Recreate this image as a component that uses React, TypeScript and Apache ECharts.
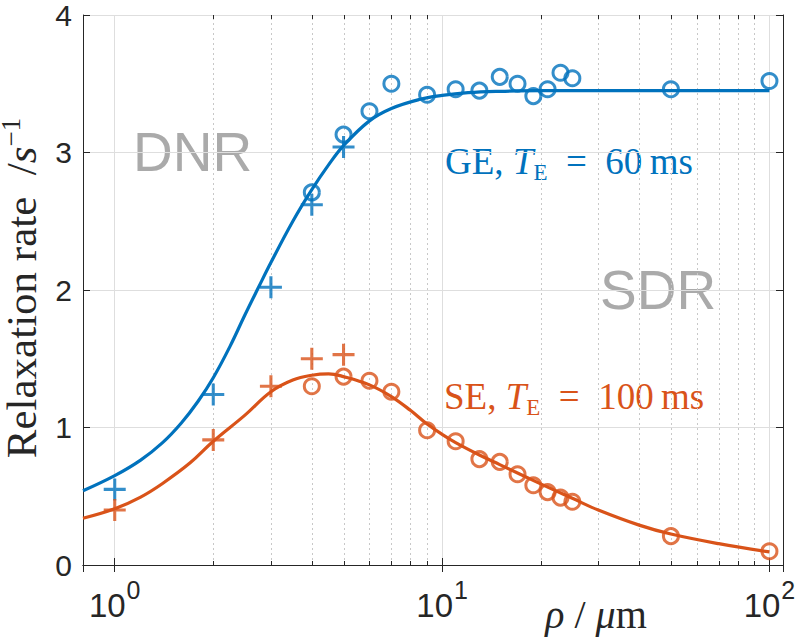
import React, { useEffect, useRef } from "react";
import * as echarts from "echarts";

// ---- data ----
const geCurveX = [0.8, 1, 1.2, 1.4, 1.6, 1.8, 2, 2.25, 2.5, 2.75, 3, 3.5, 4, 4.5, 5, 6, 7, 8.5, 10, 12, 15, 20, 30, 50, 100];
const geCurveY = [0.54, 0.65, 0.763, 0.89, 1.035, 1.193, 1.362, 1.59, 1.82, 2.02, 2.2, 2.5, 2.73, 2.91, 3.05, 3.23, 3.32, 3.385, 3.415, 3.435, 3.445, 3.45, 3.45, 3.45, 3.45];
const seCurveX = [0.8, 1, 1.2, 1.4, 1.7, 2, 2.5, 3, 3.5, 4, 4.5, 5, 6, 7, 8, 9, 10, 11, 13, 15, 20, 25, 30, 40, 50, 70, 100];
const seCurveY = [0.34, 0.409, 0.494, 0.593, 0.743, 0.9, 1.09, 1.26, 1.345, 1.38, 1.39, 1.37, 1.31, 1.225, 1.125, 1.025, 0.95, 0.89, 0.8, 0.73, 0.59, 0.485, 0.4, 0.29, 0.225, 0.155, 0.095];

const circX = [4, 5, 6, 7, 9, 11, 13, 15, 17, 19, 21, 23, 25, 50, 100];
const geCircY = [2.71, 3.13, 3.3, 3.5, 3.42, 3.46, 3.45, 3.55, 3.5, 3.41, 3.46, 3.58, 3.54, 3.46, 3.52];
const seCircY = [1.3, 1.37, 1.34, 1.26, 0.98, 0.9, 0.77, 0.75, 0.66, 0.58, 0.53, 0.49, 0.46, 0.21, 0.1];

const crossX = [1, 2, 3, 4, 5];
const geCrossY = [0.55, 1.24, 2.02, 2.62, 3.04];
const seCrossY = [0.4, 0.91, 1.3, 1.5, 1.53];

const minorX = [2, 3, 4, 5, 6, 7, 8, 9, 20, 30, 40, 50, 60, 70, 80, 90];
const yTicks = [0, 1, 2, 3, 4];

const BLUE = "#0072BD";
const ORANGE = "#D95319";
const AX = "#262626";
const SERIF = "'Liberation Serif', 'Times New Roman', serif";
const SANS = "'Liberation Sans', Arial, sans-serif";

const PLUS = "path://M8.6,0 H11.4 V8.6 H20 V11.4 H11.4 V20 H8.6 V11.4 H0 V8.6 H8.6 Z";

const zip = (xs: number[], ys: number[]) => xs.map((x, i) => [x, ys[i]]);

const annot = (c: string) => ({
  n: { fontFamily: SERIF, fontSize: 37, fill: c, lineHeight: 42 },
  i: { fontFamily: SERIF, fontStyle: "italic", fontSize: 37, fill: c, lineHeight: 42 },
  s: { fontFamily: SERIF, fontSize: 23, fill: c, lineHeight: 42, padding: [22, 0, 0, 0] },
});

export default function App() {
  const ref = useRef<HTMLDivElement>(null);
  useEffect(() => {
    document.body.style.margin = "0";
    const chart = echarts.init(ref.current!, null, { renderer: "svg" });
    const xLabelFmt = (v: number) => {
      const e = Math.round(Math.log10(v));
      if (Math.abs(Math.pow(10, e) - v) > 1e-9) return "";
      return `{b|10}{e|${e}}`;
    };
    const circleStyle = (c: string) => ({
      type: "scatter",
      symbol: "circle",
      symbolSize: 15,
      itemStyle: { color: "rgba(0,0,0,0)", borderColor: c, borderWidth: 3 },
      z: 5,
    });
    const plusStyle = (c: string) => ({
      type: "scatter",
      symbol: PLUS,
      symbolSize: 22,
      itemStyle: { color: c },
      z: 5,
    });
    const option: any = {
      animation: false,
      grid: { left: 83, right: 17, top: 13, bottom: 74 },
      xAxis: [
        {
          type: "log",
          logBase: 10,
          min: 0.8,
          max: 110,
          position: "bottom",
          axisLine: { show: true, lineStyle: { color: AX, width: 1 } },
          axisTick: { show: true, inside: true, length: 7, lineStyle: { color: AX } },
          axisLabel: {
            formatter: xLabelFmt,
            showMinLabel: false,
            showMaxLabel: false,
            margin: 22,
            rich: {
              b: { fontFamily: SANS, fontSize: 33, color: AX, lineHeight: 36 },
              e: { fontFamily: SANS, fontSize: 25, color: AX, lineHeight: 36, padding: [0, 0, 30, 1] },
            },
          },
          splitLine: { show: true, lineStyle: { color: "#dedede", width: 1 } },
        },
        {
          type: "log",
          logBase: 10,
          min: 0.8,
          max: 110,
          position: "top",
          axisLine: { show: true, lineStyle: { color: AX, width: 1 } },
          axisTick: { show: true, inside: true, length: 7, lineStyle: { color: AX } },
          axisLabel: { show: false },
          splitLine: { show: false },
        },
      ],
      yAxis: [
        {
          type: "value",
          min: yTicks[0],
          max: yTicks[yTicks.length - 1],
          interval: 1,
          position: "left",
          axisLine: { show: true, lineStyle: { color: AX, width: 1 } },
          axisTick: { show: true, inside: true, length: 7, lineStyle: { color: AX } },
          axisLabel: { fontFamily: SANS, fontSize: 30, color: AX, margin: 11 },
          splitLine: { show: true, lineStyle: { color: "#dedede", width: 1 } },
        },
        {
          type: "value",
          min: yTicks[0],
          max: yTicks[yTicks.length - 1],
          interval: 1,
          position: "right",
          axisLine: { show: true, lineStyle: { color: AX, width: 1 } },
          axisTick: { show: true, inside: true, length: 7, lineStyle: { color: AX } },
          axisLabel: { show: false },
          splitLine: { show: false },
        },
      ],
      series: [
        {
          type: "custom",
          silent: true,
          z: 1,
          data: minorX.map((v) => [v, 0]),
          encode: { x: 0, y: 1 },
          renderItem: (params: any, api: any) => {
            const x = api.value(0);
            const p0 = api.coord([x, yTicks[0]]);
            const p1 = api.coord([x, yTicks[yTicks.length - 1]]);
            const px = Math.round(p0[0]) + 0.5;
            return {
              type: "group",
              children: [
                { type: "line", shape: { x1: px, y1: p0[1], x2: px, y2: p1[1] }, style: { stroke: "#c8c8c8", lineWidth: 1, lineDash: [2, 3] } },
                { type: "line", shape: { x1: px, y1: p0[1], x2: px, y2: p0[1] - 4 }, style: { stroke: AX, lineWidth: 1 } },
                { type: "line", shape: { x1: px, y1: p1[1], x2: px, y2: p1[1] + 4 }, style: { stroke: AX, lineWidth: 1 } },
              ],
            };
          },
        },
        {
          type: "line",
          data: zip(geCurveX, geCurveY),
          smooth: 0.4,
          showSymbol: false,
          lineStyle: { color: BLUE, width: 3.2 },
          z: 4,
        },
        {
          type: "line",
          data: zip(seCurveX, seCurveY),
          smooth: 0.4,
          showSymbol: false,
          lineStyle: { color: ORANGE, width: 3.2 },
          z: 4,
        },
        { ...circleStyle(BLUE), data: zip(circX, geCircY) },
        { ...circleStyle(ORANGE), data: zip(circX, seCircY) },
        { ...plusStyle(BLUE), data: zip(crossX, geCrossY) },
        { ...plusStyle(ORANGE), data: zip(crossX, seCrossY) },
      ],
      graphic: [
        {
          type: "text",
          x: 133,
          y: 152,
          style: { text: "DNR", font: `55px ${SANS}`, fill: "#aaaaaa", textAlign: "left", textVerticalAlign: "middle" },
        },
        {
          type: "text",
          x: 600,
          y: 290,
          style: { text: "SDR", font: `55px ${SANS}`, fill: "#aaaaaa", textAlign: "left", textVerticalAlign: "middle" },
        },
        {
          type: "text",
          x: 445,
          y: 161,
          style: {
            text: "{n|GE, }{i|T}{s|E}{n|\u2002=\u200260\u2009ms}",
            fill: BLUE,
            textAlign: "left",
            textVerticalAlign: "middle",
            rich: annot(BLUE),
          },
        },
        {
          type: "text",
          x: 444,
          y: 396,
          style: {
            text: "{n|SE, }{i|T}{s|E}{n|\u2002=\u2002100\u2009ms}",
            fill: ORANGE,
            textAlign: "left",
            textVerticalAlign: "middle",
            rich: annot(ORANGE),
          },
        },
        {
          type: "text",
          x: 21,
          y: 288,
          rotation: Math.PI / 2,
          style: {
            text: "{n|Relaxation rate\u2002/}{i|s}{p|−1}",
            fill: AX,
            textAlign: "center",
            textVerticalAlign: "middle",
            rich: {
              n: { fontFamily: SERIF, fontSize: 43, fill: AX, lineHeight: 46 },
              i: { fontFamily: SERIF, fontStyle: "italic", fontSize: 43, fill: AX, lineHeight: 46 },
              p: { fontFamily: SERIF, fontSize: 27, fill: AX, lineHeight: 46, padding: [0, 0, 20, 0] },
            },
          },
        },
        {
          type: "text",
          x: 596,
          y: 614,
          style: {
            text: "{i|ρ}{n| / }{i|μ}{n|m}",
            fill: AX,
            textAlign: "center",
            textVerticalAlign: "middle",
            rich: {
              n: { fontFamily: SERIF, fontSize: 40, fill: AX, lineHeight: 44 },
              i: { fontFamily: SERIF, fontStyle: "italic", fontSize: 40, fill: AX, lineHeight: 44 },
            },
          },
        },
      ],
    };
    chart.setOption(option);
    return () => chart.dispose();
  }, []);
  return <div ref={ref} style={{ width: 800, height: 639 }} />;
}
